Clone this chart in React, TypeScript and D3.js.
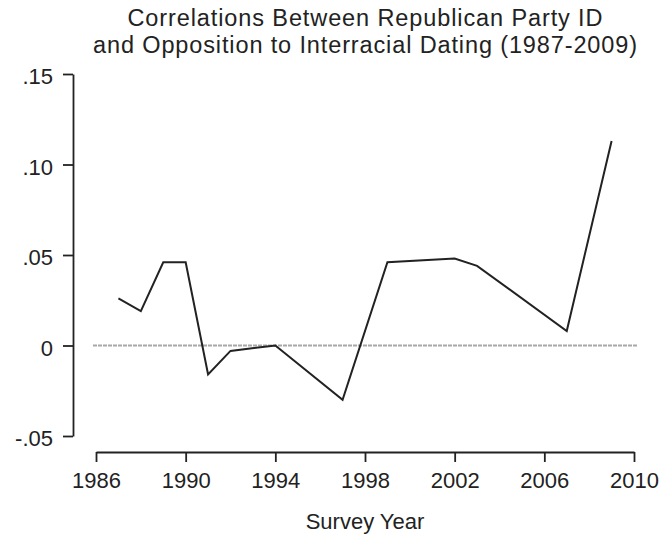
import React, { useEffect, useRef } from "react";
import * as d3 from "d3";

const years = [1987, 1988, 1989, 1990, 1991, 1992, 1994, 1997, 1999, 2002, 2003, 2007, 2009];
const correlations = [0.026, 0.019, 0.046, 0.046, -0.016, -0.003, 0.0, -0.030, 0.046, 0.048, 0.044, 0.008, 0.113];
const xTickValues = [1986, 1990, 1994, 1998, 2002, 2006, 2010];
const yTickValues = [-0.05, 0, 0.05, 0.1, 0.15];
const yTickLabels = ["-.05", "0", ".05", ".10", ".15"];
const titleLines = ["Correlations Between Republican Party ID", "and Opposition to Interracial Dating (1987-2009)"];
const titleWidths = [475, 544];
const xAxisTitle = "Survey Year";

const W = 666;
const H = 535;
const FONT = "'Liberation Sans', Arial, Helvetica, sans-serif";
const INK = "#222";

export default function App() {
  const ref = useRef<SVGSVGElement | null>(null);

  useEffect(() => {
    const svg = d3.select(ref.current);
    svg.selectAll("*").remove();

    const x = d3.scaleLinear().domain([1986, 2010]).range([96, 634]);
    const y = d3.scaleLinear().domain([-0.05, 0.15]).range([436, 74]);

    // title
    svg
      .append("g")
      .selectAll("text")
      .data(titleLines)
      .join("text")
      .attr("x", 365)
      .attr("y", (_d, i) => 26 + i * 27)
      .attr("text-anchor", "middle")
      .attr("font-family", FONT)
      .attr("font-size", 23.5)
      .attr("textLength", (_d, i) => titleWidths[i])
      .attr("lengthAdjust", "spacing")
      .attr("fill", INK)
      .text((d) => d);

    // zero reference line
    svg
      .append("line")
      .attr("x1", x(1986) - 3)
      .attr("x2", x(2010) + 3)
      .attr("y1", y(0))
      .attr("y2", y(0))
      .attr("stroke", "#a8a8a8")
      .attr("stroke-width", 2)
      .attr("stroke-dasharray", "4,1");

    // y axis
    const yAxis = d3
      .axisLeft(y)
      .tickValues(yTickValues)
      .tickFormat((_d, i) => yTickLabels[i])
      .tickSize(10)
      .tickSizeOuter(0)
      .tickPadding(10);
    const gy = svg.append("g").attr("transform", "translate(73,0)").call(yAxis);
    gy.select(".domain").attr("stroke", INK).attr("stroke-width", 1.8);
    gy.selectAll(".tick line").attr("stroke", INK).attr("stroke-width", 1.8);
    gy.selectAll(".tick text")
      .attr("font-family", FONT)
      .attr("font-size", 22)
      .attr("fill", INK)
      .attr("dy", "0.45em");

    // x axis
    const xAxis = d3
      .axisBottom(x)
      .tickValues(xTickValues)
      .tickFormat(d3.format("d"))
      .tickSize(10)
      .tickSizeOuter(0)
      .tickPadding(10);
    const gx = svg.append("g").attr("transform", "translate(0,452)").call(xAxis);
    gx.select(".domain").attr("stroke", INK).attr("stroke-width", 1.8);
    gx.selectAll(".tick line").attr("stroke", INK).attr("stroke-width", 1.8);
    gx.selectAll(".tick text")
      .attr("font-family", FONT)
      .attr("font-size", 22)
      .attr("fill", INK);

    svg
      .append("text")
      .attr("x", 365)
      .attr("y", 529)
      .attr("text-anchor", "middle")
      .attr("font-family", FONT)
      .attr("font-size", 22)
      .attr("fill", INK)
      .text(xAxisTitle);

    // data line
    const pts = years.map((yr, i) => [yr, correlations[i]] as [number, number]);
    const line = d3
      .line<[number, number]>()
      .x((d) => x(d[0]))
      .y((d) => y(d[1]));
    svg
      .append("path")
      .attr("d", line(pts) ?? "")
      .attr("fill", "none")
      .attr("stroke", INK)
      .attr("stroke-width", 2)
      .attr("stroke-linejoin", "miter");
  }, []);

  return (
    <svg
      ref={ref}
      width={W}
      height={H}
      style={{ position: "absolute", left: 0, top: 0, background: "#fff" }}
    />
  );
}
